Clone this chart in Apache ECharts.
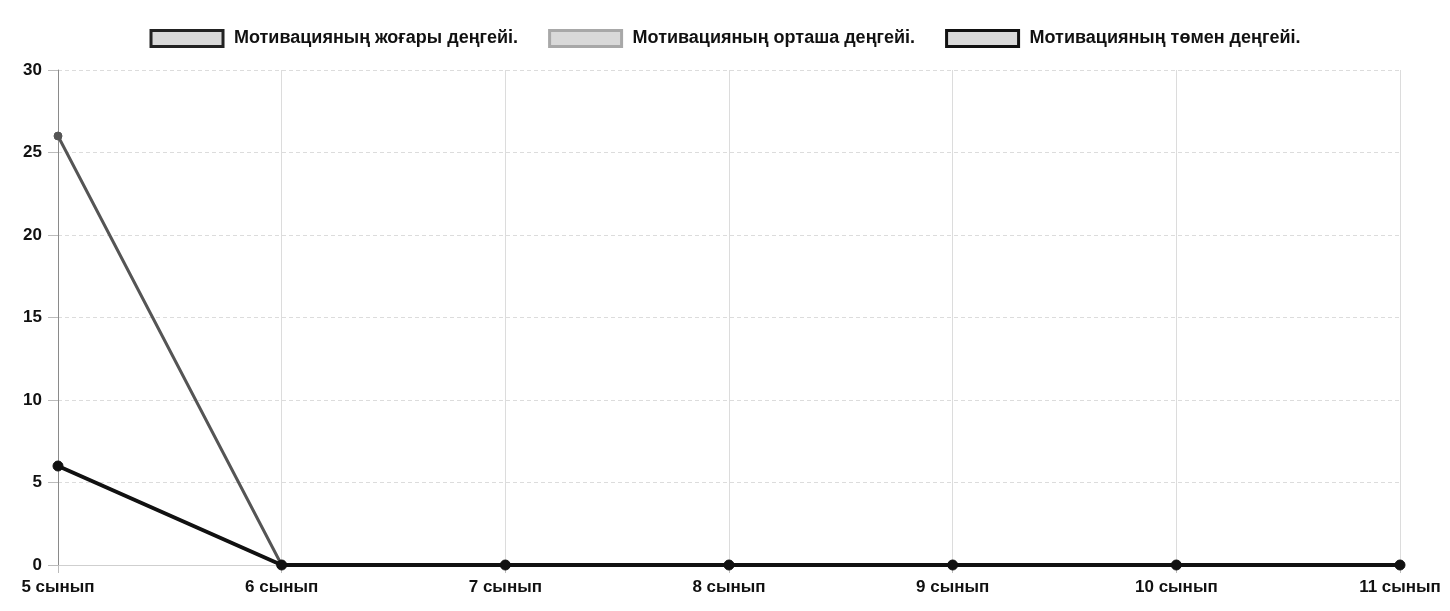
<!DOCTYPE html>
<html>
<head>
<meta charset="utf-8">
<script src="https://cdn.jsdelivr.net/npm/echarts@6/dist/echarts.min.js"></script>
<style>html,body{margin:0;padding:0;background:#fff;}#c{width:1450px;height:611px;}</style>
</head>
<body>
<div id="c"></div>
<script>
const categories = ['5 сынып','6 сынып','7 сынып','8 сынып','9 сынып','10 сынып','11 сынып'];
const seriesNames = ['Мотивацияның жоғары деңгейі.','Мотивацияның орташа деңгейі.','Мотивацияның төмен деңгейі.'];
const highValues = [26, 0, 0, 0, 0, 0, 0];
const mediumValues = [6, 0, 0, 0, 0, 0, 0];
const lowValues = [6, 0, 0, 0, 0, 0, 0];
const yTicks = [0, 5, 10, 15, 20, 25, 30];

const lineColors = ['#555555', '#b5b5b5', '#111111'];
const borderColors = ['#222222', '#a8a8a8', '#111111'];
const values = [highValues, mediumValues, lowValues];
const font = 'Liberation Sans, Arial, sans-serif';

const chart = echarts.init(document.getElementById('c'), null, {renderer: 'canvas'});
chart.setOption({
  backgroundColor: '#ffffff',
  animation: false,
  legend: {
    top: 24,
    left: 'center',
    itemWidth: 72,
    itemHeight: 16,
    itemGap: 30,
    icon: 'rect',
    textStyle: {fontFamily: font, fontSize: 18, fontWeight: 'bold', color: '#111', padding: [0, 0, 0, 6]},
    data: seriesNames.map((n, i) => ({
      name: n,
      itemStyle: {color: '#d9d9d9', borderColor: borderColors[i], borderWidth: 3}
    }))
  },
  grid: {left: 58, right: 50, top: 70, bottom: 46, containLabel: false},
  xAxis: {
    type: 'category',
    data: categories,
    boundaryGap: false,
    axisLine: {show: true, lineStyle: {color: '#cfcfcf', width: 1}},
    axisTick: {show: true, length: 8, alignWithLabel: true, lineStyle: {color: '#bbb'}},
    axisLabel: {margin: 14, color: '#111', fontFamily: font, fontSize: 17, fontWeight: 'bold'},
    splitLine: {show: true, lineStyle: {color: '#dcdcdc', width: 1}}
  },
  yAxis: {
    type: 'value',
    min: yTicks[0],
    max: yTicks[yTicks.length - 1],
    interval: yTicks[1] - yTicks[0],
    axisLine: {show: true, lineStyle: {color: '#8a8a8a', width: 1}},
    axisTick: {show: true, length: 10, lineStyle: {color: '#bbb'}},
    axisLabel: {margin: 16, color: '#111', fontFamily: font, fontSize: 17, fontWeight: 'bold'},
    splitLine: {show: true, lineStyle: {color: '#dcdcdc', width: 1, type: [4, 3]}}
  },
  series: seriesNames.map((n, i) => ({
    name: n,
    type: 'line',
    data: values[i],
    symbol: 'circle',
    symbolSize: i === 2 ? 10 : 8,
    lineStyle: {color: lineColors[i], width: i === 2 ? 4 : 3},
    itemStyle: {color: lineColors[i], borderColor: lineColors[i], borderWidth: 1},
    z: 2 + i
  }))
});
</script>
</body>
</html>
